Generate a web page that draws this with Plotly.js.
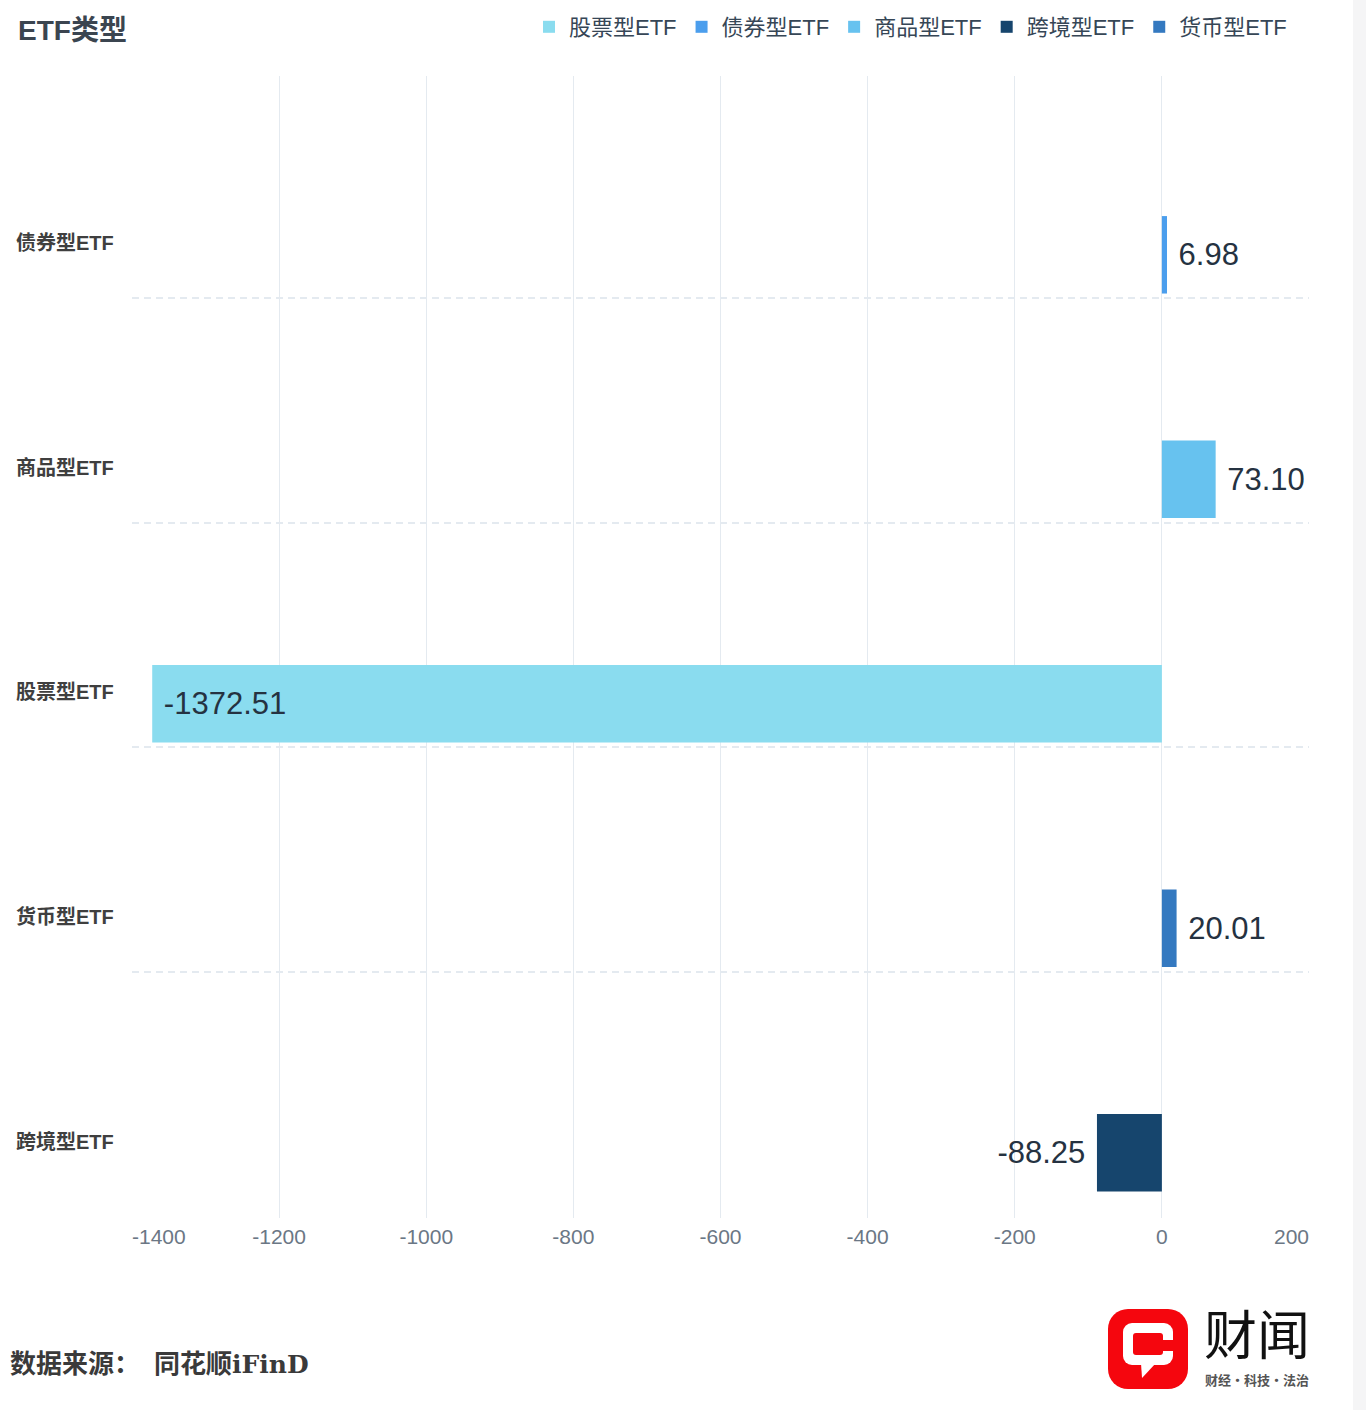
<!DOCTYPE html>
<html>
<head>
<meta charset="utf-8">
<script src="https://cdn.plot.ly/plotly-3.0.1.min.js"></script>
<style>
  html, body { margin: 0; padding: 0; background: #ffffff; }
  #wrap { position: relative; width: 1366px; height: 1410px; overflow: hidden; }
  #chart { position: absolute; left: 0; top: 0; width: 1366px; height: 1410px; }
  #strip { position: absolute; left: 1353px; top: 0; width: 13px; height: 1410px; background: #f5f5f6; }
  #source { position: absolute; left: 10px; top: 1346px; font-size: 26px; line-height: 32px; color: #3a3a3a;
            font-family: "Noto Sans CJK SC", sans-serif; font-weight: 700; white-space: nowrap; }
  #source .gap { display: inline-block; width: 14px; }
  #source .en { font-family: "DejaVu Serif", "Liberation Serif", serif; font-weight: 700; font-size: 25px; }
  #logo { position: absolute; left: 1108px; top: 1309px; width: 80px; height: 80px; }
  #brand { position: absolute; left: 1204px; top: 1306px; font-size: 53px; line-height: 52px; color: #111;
           font-family: "Noto Sans CJK SC", serif; font-weight: 400; white-space: nowrap; }
  #slogan { position: absolute; left: 1205px; top: 1372px; font-size: 13px; line-height: 16px; color: #555;
            font-family: "Noto Sans CJK SC", sans-serif; font-weight: 700; white-space: nowrap; letter-spacing: 0px; }
</style>
</head>
<body>
<div id="wrap">
  <div id="chart"></div>
  <div id="strip"></div>
  <div id="source">数据来源：<span class="gap"></span>同花顺<span class="en">iFinD</span></div>
  <svg id="logo" viewBox="0 0 80 80" xmlns="http://www.w3.org/2000/svg">
    <rect x="0" y="0" width="80" height="80" rx="20" ry="20" fill="#f5060e"/>
    <rect x="15" y="14" width="50" height="42" rx="9" ry="9" fill="#ffffff"/>
    <polygon points="33,54 48,54 34,69" fill="#ffffff"/>
    <rect x="25" y="24" width="30" height="22" rx="3" ry="3" fill="#f5060e"/>
    <rect x="50" y="31" width="17" height="11" fill="#f5060e"/>
  </svg>
  <div id="brand">财闻</div>
  <div id="slogan">财经·科技·法治</div>
</div>
<script>
// ---- data ----
const categories = ['债券型ETF', '商品型ETF', '股票型ETF', '货币型ETF', '跨境型ETF']; // top to bottom
const seriesNames = ['股票型ETF', '债券型ETF', '商品型ETF', '跨境型ETF', '货币型ETF']; // legend order
const seriesValues = [-1372.51, 6.98, 73.10, -88.25, 20.01];
const xTickVals = [-1400, -1200, -1000, -800, -600, -400, -200, 0, 200];
const xTickText = ['-1400', '-1200', '-1000', '-800', '-600', '-400', '-200', '0', '200'];

// ---- styles ----
const seriesColors = ['#8adcef', '#4b9eed', '#67c2ef', '#16456d', '#3479c0'];
const FONT = '"Liberation Sans", Arial, "Noto Sans CJK SC", sans-serif';
const NB = '\u00a0';

const traces = seriesNames.map((name, i) => ({
  type: 'bar',
  orientation: 'h',
  name: name,
  x: [seriesValues[i]],
  y: [name],
  width: [0.345],
  offset: [0.133],
  marker: { color: seriesColors[i], line: { width: 0 } },
  texttemplate: NB + '%{x:.2f}' + NB,
  textposition: 'auto',
  insidetextanchor: 'end',
  textangle: 0,
  textfont: { family: FONT, size: 31, color: '#253241' },
  insidetextfont: { family: FONT, size: 31, color: '#253241' },
  outsidetextfont: { family: FONT, size: 31, color: '#253241' },
  cliponaxis: false,
  hoverinfo: 'x+name'
}));

const annotations = categories.map(c => ({
  xref: 'paper', yref: 'y',
  x: -0.0136, y: c,
  xanchor: 'right', yanchor: 'middle',
  yshift: -57,
  text: '<b>' + c + '</b>',
  showarrow: false,
  font: { family: FONT, size: 20, color: '#3f3f3f' }
}));

const layout = {
  width: 1366,
  height: 1410,
  margin: { l: 132, r: 57, t: 76, b: 192 },
  paper_bgcolor: '#ffffff',
  plot_bgcolor: '#ffffff',
  font: { family: FONT },
  barmode: 'overlay',
  title: {
    text: '<b>ETF类型</b>',
    font: { family: FONT, size: 28, color: '#3b4550' },
    xref: 'container', x: 18 / 1366, xanchor: 'left',
    yref: 'container', y: 1 - 30 / 1410, yanchor: 'middle'
  },
  showlegend: true,
  legend: {
    orientation: 'h',
    xref: 'container', x: 1292 / 1366, xanchor: 'right',
    yref: 'container', y: 1 - 27 / 1410, yanchor: 'middle',
    font: { family: FONT, size: 22, color: '#364656' },
    bgcolor: 'rgba(0,0,0,0)',
    traceorder: 'normal',
    itemclick: false, itemdoubleclick: false
  },
  xaxis: {
    range: [-1400, 200],
    tickmode: 'array',
    tickvals: xTickVals,
    ticktext: xTickText,
    showgrid: true,
    gridcolor: '#e4eaf0',
    gridwidth: 1,
    zeroline: false,
    showline: false,
    ticks: '',
    ticklabelstandoff: 4,
    tickfont: { family: FONT, size: 21, color: '#6b7785' },
    fixedrange: true
  },
  yaxis: {
    type: 'category',
    categoryorder: 'array',
    categoryarray: categories,
    range: [4.596, -0.491],
    tickson: 'boundaries',
    showgrid: true,
    gridcolor: '#e4eaf0',
    gridwidth: 1.5,
    griddash: '7px,5px',
    showticklabels: false,
    ticks: '',
    zeroline: false,
    showline: false,
    fixedrange: true
  },
  annotations: annotations
};

Plotly.newPlot('chart', traces, layout, { displayModeBar: false, staticPlot: false }).then(() => {
  const ticks = document.querySelectorAll('#chart .xtick text');
  if (ticks.length) {
    ticks[0].setAttribute('text-anchor', 'start');
    ticks[ticks.length - 1].setAttribute('text-anchor', 'end');
  }
});
</script>
</body>
</html>
